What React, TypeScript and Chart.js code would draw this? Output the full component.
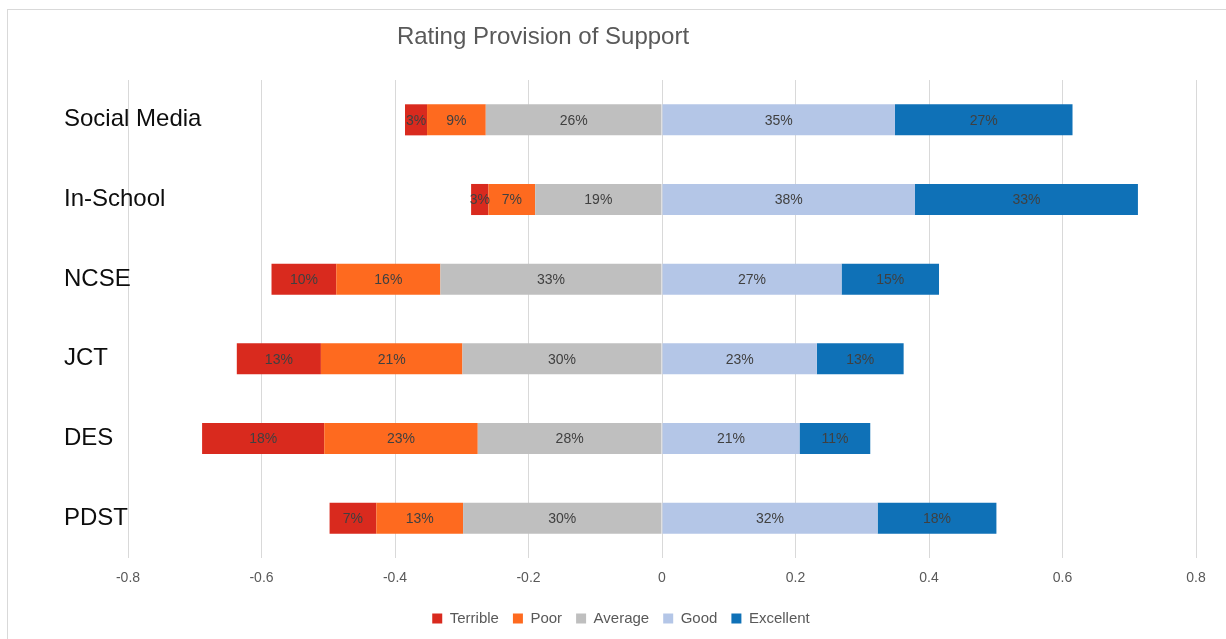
import React, { useEffect, useRef } from 'react';
import { Chart, registerables } from 'chart.js';

Chart.register(...registerables);

const chartTitle = 'Rating Provision of Support';
const categories = ['Social Media', 'In-School', 'NCSE', 'JCT', 'DES', 'PDST'];
const seriesNames = ['Terrible', 'Poor', 'Average', 'Good', 'Excellent'];
const terrible = [0.033, 0.026, 0.097, 0.126, 0.183, 0.07];
const poor = [0.088, 0.07, 0.156, 0.212, 0.23, 0.13];
const average = [0.264, 0.19, 0.332, 0.299, 0.276, 0.298];
const good = [0.349, 0.379, 0.269, 0.232, 0.206, 0.323];
const excellent = [0.266, 0.334, 0.146, 0.13, 0.106, 0.178];
const xMin = -0.8;
const xMax = 0.8;
const xStep = 0.2;

const colors: Record<string, string> = {
  Terrible: '#D92A1E',
  Poor: '#FE6A1F',
  Average: '#BFBFBF',
  Good: '#B4C6E7',
  Excellent: '#0F71B7',
};

const FONT = "'Liberation Sans', Arial, sans-serif";

const labelPlugin = {
  id: 'customText',
  afterDatasetsDraw(chart: any) {
    const ctx = chart.ctx;
    ctx.save();
    ctx.font = `14px ${FONT}`;
    ctx.fillStyle = '#404040';
    ctx.textAlign = 'center';
    ctx.textBaseline = 'middle';
    chart.data.datasets.forEach((ds: any, di: number) => {
      const meta = chart.getDatasetMeta(di);
      meta.data.forEach((el: any, i: number) => {
        const v = ds.data[i];
        const p = el.getCenterPoint();
        ctx.fillText(Math.round(Math.abs(v) * 100) + '%', p.x, p.y + 1);
      });
    });
    ctx.restore();
  },
  afterDraw(chart: any) {
    const ctx = chart.ctx;
    const y = chart.scales.y;
    ctx.save();
    ctx.font = `24px ${FONT}`;
    ctx.fillStyle = '#0D0D0D';
    ctx.textAlign = 'left';
    ctx.textBaseline = 'middle';
    categories.forEach((c, i) => {
      ctx.fillText(c, 64, y.getPixelForValue(i));
    });
    ctx.font = `24px ${FONT}`;
    ctx.fillStyle = '#595959';
    ctx.textAlign = 'center';
    ctx.fillText(chartTitle, 543, 37);
    ctx.restore();
  },
};

export default function App() {
  const ref = useRef<HTMLCanvasElement | null>(null);
  useEffect(() => {
    if (!ref.current) return;
    const mk = (name: string, arr: number[], sign: number) => ({
      label: name,
      data: arr.map((v) => sign * v),
      backgroundColor: colors[name],
      borderWidth: 0,
      stack: 'all',
      barPercentage: 0.39,
      categoryPercentage: 1,
    });
    const chart = new Chart(ref.current, {
      type: 'bar',
      data: {
        labels: categories,
        datasets: [
          mk('Average', average, -1),
          mk('Poor', poor, -1),
          mk('Terrible', terrible, -1),
          mk('Good', good, 1),
          mk('Excellent', excellent, 1),
        ],
      },
      options: {
        indexAxis: 'y',
        animation: false,
        responsive: false,
        events: [],
        layout: { padding: { left: 46, right: 30, top: 80, bottom: 3 } },
        scales: {
          x: {
            stacked: true,
            min: xMin,
            max: xMax,
            ticks: {
              stepSize: xStep,
              padding: 12,
              color: '#595959',
              font: { family: FONT, size: 14 },
              callback: (v: any) => String(Math.round(Number(v) * 10) / 10),
            },
            grid: { color: '#D9D9D9', drawTicks: false, lineWidth: 1 },
            border: { display: false },
            afterFit: (s: any) => {
              s.height = 39;
            },
          },
          y: {
            stacked: true,
            ticks: { display: false },
            grid: { display: false },
            border: { display: false },
            afterFit: (s: any) => {
              s.width = 82;
            },
          },
        },
        plugins: {
          title: { display: false },
          tooltip: { enabled: false },
          legend: {
            position: 'bottom',
            labels: {
              boxWidth: 10,
              boxHeight: 10,
              padding: 14,
              color: '#595959',
              font: { family: FONT, size: 15 },
              sort: (a: any, b: any) => seriesNames.indexOf(a.text) - seriesNames.indexOf(b.text),
            },
          },
        },
      },
      plugins: [labelPlugin],
    } as any);
    return () => chart.destroy();
  }, []);
  return (
    <div style={{ position: 'fixed', left: 0, top: 0, width: 1226, height: 639, background: '#fff' }}>
      <div
        style={{
          position: 'absolute',
          left: 7,
          top: 9,
          width: 1240,
          height: 660,
          borderTop: '1px solid #D9D9D9',
          borderLeft: '1px solid #D9D9D9',
        }}
      />
      <canvas ref={ref} width={1226} height={639} style={{ position: 'absolute', left: 0, top: 0, display: 'block' }} />
    </div>
  );
}
